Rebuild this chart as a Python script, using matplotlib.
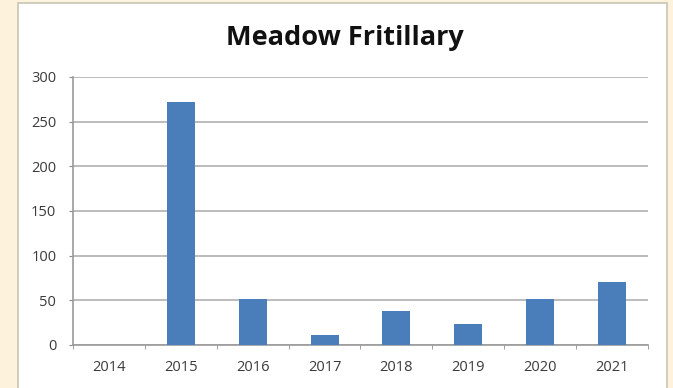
import matplotlib
matplotlib.use("Agg")
import matplotlib.pyplot as plt
from matplotlib.patches import Rectangle
import numpy as np

years = ["2014", "2015", "2016", "2017", "2018", "2019", "2020", "2021"]
counts = [0, 272, 52, 11, 38, 24, 52, 70]
yticks = [0, 50, 100, 150, 200, 250, 300]

W, H = 673, 388
fig = plt.figure(figsize=(W/100, H/100), dpi=100)
fig.patch.set_facecolor("#fdf3dc")
fig.patches.append(Rectangle((18/W, -0.01), (667-18)/W, 1.0 - 3/H + 0.01,
                             transform=fig.transFigure, facecolor="white",
                             edgecolor="#c8c3b5", linewidth=1.2, zorder=-1))

ax = fig.add_axes([73/W, 1 - 345/H, (648-73)/W, (345-77)/H])
ax.set_zorder(2)
ax.set_facecolor("white")
x = np.arange(len(years))
ax.bar(x, counts, width=0.39, color="#4a7ebb", zorder=3)
ax.set_xlim(-0.5, len(years) - 0.5)
ax.set_ylim(0, 300)
ax.set_yticks(yticks)
ax.set_yticklabels([str(t) for t in yticks])
ax.set_xticks(x)
ax.set_xticklabels(years)
ax.set_xticks(np.arange(-0.5, len(years)), minor=True)
ax.tick_params(axis="x", which="major", length=0, pad=11)
ax.tick_params(axis="x", which="minor", length=3, color="#8c8c8c", direction="out")
ax.tick_params(axis="y", length=3, color="#8c8c8c", pad=9)
for lab in ax.get_xticklabels() + ax.get_yticklabels():
    lab.set_fontfamily("Open Sans")
    lab.set_fontsize(10.5)
    lab.set_color("#3a3a3a")
ax.grid(axis="y", color="#b0b0b0", linewidth=1.2, zorder=0)
ax.set_axisbelow(True)
for s in ["top", "right"]:
    ax.spines[s].set_visible(False)
ax.spines["left"].set_color("#9a9a9a")
ax.spines["left"].set_linewidth(1.2)
ax.spines["bottom"].set_color("#9a9a9a")
ax.spines["bottom"].set_linewidth(1.2)

fig.text(345/W, 1 - 38/H, "Meadow Fritillary", ha="center", va="center",
         fontsize=19.5, fontweight="bold", fontfamily="Open Sans", color="#111111")

fig.savefig("out.png", dpi=100, facecolor=fig.get_facecolor())
